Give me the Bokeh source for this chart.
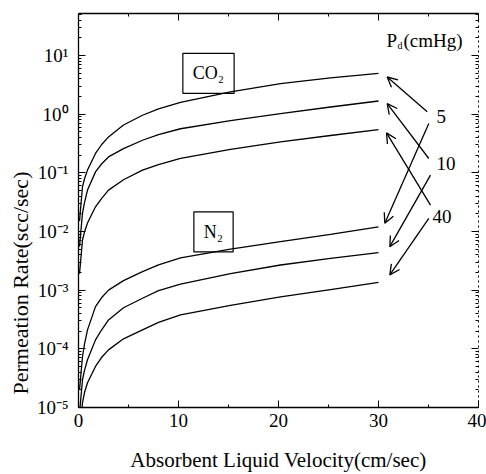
import math
from bokeh.plotting import figure
from bokeh.models import (LinearAxis, LogAxis, Range1d, SingleIntervalTicker, FixedTicker,
                          CustomJSTickFormatter, Label, Arrow, OpenHead, Title)
from bokeh.embed import file_html
from bokeh.resources import INLINE

# ---- data ----
velocity = [0.1, 0.4, 0.6, 0.9, 1.7, 2.3, 3.0, 4.5, 6.4, 8.0, 10.2, 15.2, 20.2, 25.2, 30.0]
co2_pd5 = [0.015, 0.058, 0.079, 0.111, 0.213, 0.30, 0.408, 0.65, 0.955, 1.23, 1.58, 2.38, 3.30, 4.12, 4.94]
co2_pd10 = [0.0055, 0.0206, 0.031, 0.0506, 0.1035, 0.141, 0.186, 0.257, 0.358, 0.447, 0.562, 0.776, 1.02, 1.32, 1.67]
co2_pd40 = [0.0019, 0.00714, 0.0098, 0.0139, 0.0263, 0.0363, 0.0506, 0.0759, 0.111, 0.138, 0.175, 0.251, 0.336, 0.431, 0.545]
n2_pd5 = [2.0e-5, 7.4e-5, 1.2e-4, 2.1e-4, 5.24e-4, 7.4e-4, 1.0e-3, 1.45e-3, 2.07e-3, 2.69e-3, 3.53e-3, 5.0e-3, 6.68e-3, 8.9e-3, 0.0120]
n2_pd10 = [8e-6, 2.97e-5, 4.3e-5, 6.5e-5, 1.42e-4, 2.09e-4, 3.11e-4, 5.0e-4, 7.28e-4, 9.8e-4, 1.27e-3, 1.91e-3, 2.68e-3, 3.47e-3, 4.34e-3]
n2_pd40 = [3e-6, 1.21e-5, 1.8e-5, 2.64e-5, 5.0e-5, 7.1e-5, 9.6e-5, 1.48e-4, 2.1e-4, 2.82e-4, 3.79e-4, 5.5e-4, 7.66e-4, 1.02e-3, 1.35e-3]
pd_labels = ["5", "10", "40"]
y_decades = [-5, -4, -3, -2, -1, 0, 1]

FONT = "Liberation Serif"

p = figure(width=486, height=474, x_range=Range1d(0, 40), y_range=Range1d(1e-5, 51.7),
           y_axis_type="log", output_backend="svg", toolbar_location=None,
           min_border_left=78, min_border_right=8, min_border_top=13, min_border_bottom=66)
p.grid.visible = False
p.outline_line_color = None
p.background_fill_color = "white"
p.border_fill_color = "white"

yticks = [10.0 ** d for d in y_decades]
yminor = [m * 10.0 ** d for d in y_decades for m in range(2, 10) if m * 10.0 ** d < 51.7]
fmt = CustomJSTickFormatter(code="""
const e = Math.round(Math.log10(tick));
const m = {'-':'\u207b','0':'\u2070','1':'\u00b9','2':'\u00b2','3':'\u00b3','4':'\u2074','5':'\u2075'};
return '10' + String(e).split('').map(c => m[c]).join('');
""")
blank = CustomJSTickFormatter(code="return '';")

def style(ax):
    ax.axis_line_color = "black"
    ax.axis_line_width = 1.3
    ax.major_tick_line_color = "black"
    ax.minor_tick_line_color = "black"
    ax.major_tick_in = 7
    ax.major_tick_out = 0
    ax.minor_tick_in = 3
    ax.minor_tick_out = 0
    ax.major_label_text_font = FONT
    ax.major_label_text_font_size = "19px"
    ax.major_label_text_color = "black"
    ax.axis_label_text_font = FONT
    ax.axis_label_text_font_size = "21px"
    ax.axis_label_text_font_style = "normal"
    ax.axis_label_text_color = "black"

xa = p.xaxis[0]
xa.ticker = SingleIntervalTicker(interval=10, num_minor_ticks=2)
xa.axis_label = "Absorbent Liquid Velocity(cm/sec)"
style(xa)
xa.major_label_standoff = 6
xa.axis_label_standoff = 18

ya = p.yaxis[0]
ya.ticker = FixedTicker(ticks=yticks, minor_ticks=yminor)
ya.formatter = fmt
style(ya)
ya.major_label_standoff = 10

top = LinearAxis(ticker=SingleIntervalTicker(interval=10, num_minor_ticks=2), formatter=blank)
style(top)
top.major_label_standoff = 0
p.add_layout(top, "above")

right = LogAxis(ticker=FixedTicker(ticks=yticks, minor_ticks=yminor), formatter=blank)
style(right)
right.axis_line_dash = "2 3"
right.axis_line_width = 1
right.major_label_standoff = 0
p.add_layout(right, "right")

# y axis title, placed lower than centre as in the reference
p.add_layout(Title(text="Permeation Rate(scc/sec)", align="left", offset=13, standoff=2,
                   text_font=FONT, text_font_size="22px", text_font_style="normal",
                   text_color="black"), "left")

for ys in [co2_pd5, co2_pd10, co2_pd40, n2_pd5, n2_pd10, n2_pd40]:
    p.line(velocity, ys, line_color="black", line_width=1.3)

# gas boxes
p.add_layout(Label(x=13.0, y=4.94, text="CO\u2082", text_align="center", text_baseline="middle",
                   text_font=FONT, text_font_size="18px", text_color="black",
                   border_line_color="black", border_line_width=1.2, padding=10))
p.add_layout(Label(x=13.5, y=0.0098, text="N\u2082", text_align="center", text_baseline="middle",
                   text_font=FONT, text_font_size="18px", text_color="black",
                   border_line_color="black", border_line_width=1.2, padding=10))

# Pd header
p.add_layout(Label(x=30.8, y=18, text="P", text_baseline="middle", text_font=FONT,
                   text_font_size="19px", text_color="black"))
p.add_layout(Label(x=30.8, y=18, x_offset=11, y_offset=-5, text="d", text_baseline="middle",
                   text_font=FONT, text_font_size="10px", text_color="black"))
p.add_layout(Label(x=30.8, y=18, x_offset=17, text="(cmHg)", text_baseline="middle",
                   text_font=FONT, text_font_size="19px", text_color="black"))

# pressure labels
for lbl, (lx, ly) in zip(pd_labels, [(35.8, 0.918), (35.8, 0.146), (35.4, 0.0183)]):
    p.add_layout(Label(x=lx, y=ly, text=lbl, text_baseline="middle", text_font=FONT,
                       text_font_size="19px", text_color="black"))

arrows = [
    ((34.87, 1.09), (30.87, 4.28)),
    ((35.03, 0.175), (30.87, 1.51)),
    ((35.2, 0.0281), (30.8, 0.478)),
    ((35.03, 0.689), (30.63, 0.01374)),
    ((35.2, 0.091), (31.13, 0.0055)),
    ((35.03, 0.0167), (31.13, 0.00182)),
]
for (xs, ys), (xe, ye) in arrows:
    p.add_layout(Arrow(x_start=xs, y_start=ys, x_end=xe, y_end=ye, line_width=1.3,
                       line_color="black",
                       end=OpenHead(size=10, line_width=1.3, line_color="black")))

open("out.html", "w").write(file_html(p, INLINE))
